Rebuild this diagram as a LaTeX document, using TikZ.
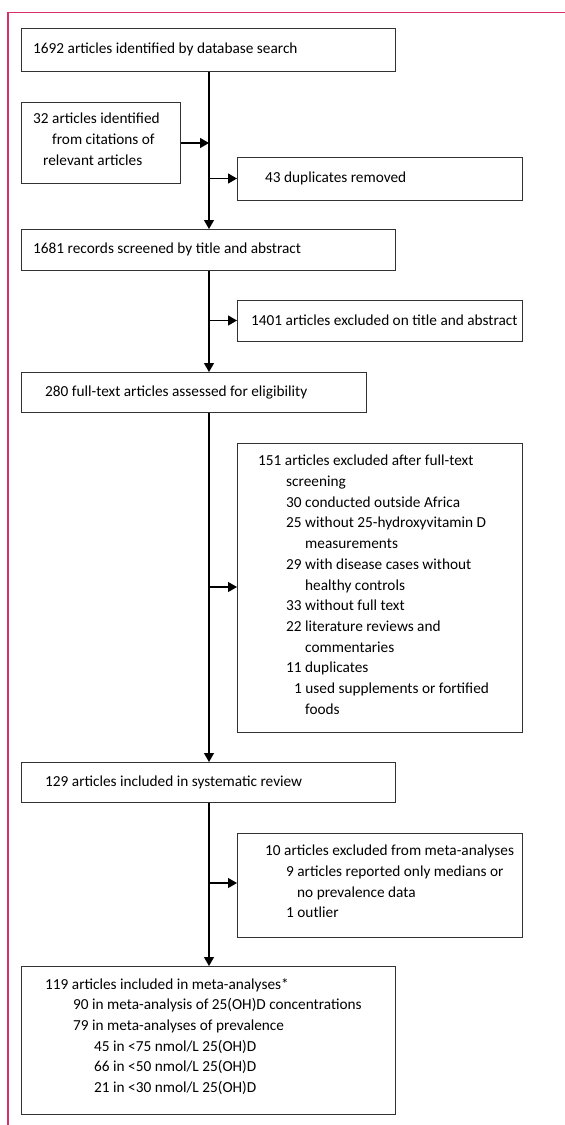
\documentclass[tikz,border=0pt]{standalone}
\usepackage{fontspec}
\setmainfont{Carlito}
\usetikzlibrary{arrows.meta}
\definecolor{framered}{RGB}{214,48,104}
\definecolor{boxline}{RGB}{50,50,50}
\tikzset{
  x=1pt, y=-1pt,
  box/.style={draw=boxline, line width=1.2pt, rectangle, inner sep=0pt, anchor=north west},
  txt/.style={inner sep=0pt, align=left, font=\fontsize{15.3}{20.7}\selectfont},
  flow/.style={draw=black, line width=1.2pt, -{Triangle[length=9pt,width=10pt]}}
}
\begin{document}
\begin{tikzpicture}
\useasboundingbox (0,0) rectangle (565,1125);
% frame
\draw[framered, line width=1.4pt] (8,1125) -- (8,12.5) -- (565,12.5);

\node[box, minimum width=374pt, minimum height=43pt] (b1) at (21,28) {};
\node[txt, anchor=west] (t1) at (33,49.5) {1692 articles identified by database search};

\node[box, minimum width=159pt, minimum height=81pt] (b2) at (21,102) {};
\node[txt, anchor=north west] (t2) at (33,113) {32 articles identified\\\hspace*{19pt}from citations of\\\hspace*{10pt}relevant articles};

\node[box, minimum width=285pt, minimum height=43pt] (b3) at (237,157) {};
\node[txt, anchor=west] (t3) at (265,178.5) {43 duplicates removed};

\node[box, minimum width=374pt, minimum height=41pt] (b4) at (21,229) {};
\node[txt, anchor=west] (t4) at (33,249.5) {1681 records screened by title and abstract};

\node[box, minimum width=285pt, minimum height=41pt] (b5) at (237,300) {};
\node[txt, anchor=west] (t5) at (251,320.5) {1401 articles excluded on title and abstract};

\node[box, minimum width=345pt, minimum height=40pt] (b6) at (21,372) {};
\node[txt, anchor=west] (t6) at (45,392) {280 full-text articles assessed for eligibility};

\node[box, minimum width=285pt, minimum height=289pt] (b7) at (237,443) {};
\node[txt, anchor=north west] (t7) at (258,455) {151 articles excluded after full-text\\
\hspace*{28pt}screening\\
\hspace*{28pt}30 conducted outside Africa\\
\hspace*{28pt}25 without 25-hydroxyvitamin D\\
\hspace*{47pt}measurements\\
\hspace*{28pt}29 with disease cases without\\
\hspace*{47pt}healthy controls\\
\hspace*{28pt}33 without full text\\
\hspace*{28pt}22 literature reviews and\\
\hspace*{47pt}commentaries\\
\hspace*{28pt}11 duplicates\\
\hspace*{36pt}1 used supplements or fortified\\
\hspace*{47pt}foods};

\node[box, minimum width=374pt, minimum height=40pt] (b8) at (21,762) {};
\node[txt, anchor=west] (t8) at (45,782) {129 articles included in systematic review};

\node[box, minimum width=285pt, minimum height=104pt] (b9) at (237,833) {};
\node[txt, anchor=north west] (t9) at (265,845) {10 articles excluded from meta-analyses\\
\hspace*{21pt}9 articles reported only medians or\\
\hspace*{32pt}no prevalence data\\
\hspace*{21pt}1 outlier};

\node[box, minimum width=374pt, minimum height=148pt] (b10) at (21,966) {};
\node[txt, anchor=north west] (t10) at (45,978) {119 articles included in meta-analyses*\\
\hspace*{28pt}90 in meta-analysis of 25(OH)D concentrations\\
\hspace*{28pt}79 in meta-analyses of prevalence\\
\hspace*{49pt}45 in <75 nmol/L 25(OH)D\\
\hspace*{49pt}66 in <50 nmol/L 25(OH)D\\
\hspace*{49pt}21 in <30 nmol/L 25(OH)D};

\coordinate (j2) at (209,143);
\coordinate (j3) at (209,178.5);
\coordinate (j5) at (209,320.5);
\coordinate (j7) at (209,587);
\coordinate (j9) at (209,883);

\draw[flow] (b1.south -| j2) -- (b4.north -| j2);
\draw[flow] (b2.east |- j2) -- (j2);
\draw[flow] (j3) -- (b3.west |- j3);
\draw[flow] (b4.south -| j5) -- (b6.north -| j5);
\draw[flow] (j5) -- (b5.west |- j5);
\draw[flow] (b6.south -| j7) -- (b8.north -| j7);
\draw[flow] (j7) -- (b7.west |- j7);
\draw[flow] (b8.south -| j9) -- (b10.north -| j9);
\draw[flow] (j9) -- (b9.west |- j9);
\end{tikzpicture}
\end{document}
